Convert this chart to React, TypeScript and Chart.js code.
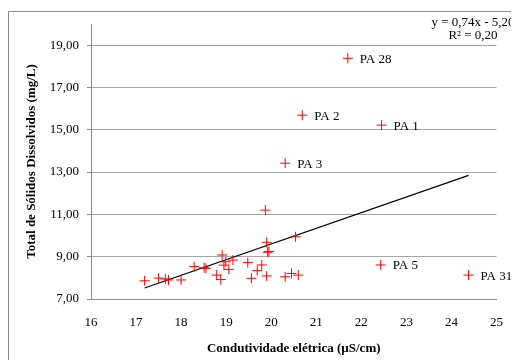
import React, { useEffect, useRef } from "react";
import { Chart, registerables } from "chart.js";

Chart.register(...registerables);

// Condutividade elétrica (µS/cm)
const condutividade = [
  22.45, 20.69, 20.31, 17.19, 22.43, 17.5, 17.65, 17.72, 18.0, 18.29, 18.51, 18.55,
  18.91, 18.79, 18.88, 18.95, 18.99, 19.06, 19.15, 19.48, 19.56, 19.69, 19.79, 19.87,
  19.9, 19.92, 19.95, 21.7, 19.9, 20.31, 24.38, 20.45, 20.6, 20.54,
];
// Total de Sólidos Dissolvidos (mg/L)
const solidos = [
  15.22, 15.69, 13.42, 7.86, 8.61, 7.99, 7.95, 7.9, 7.9, 8.53, 8.48, 8.45,
  9.08, 8.13, 7.92, 8.6, 8.76, 8.4, 8.84, 8.72, 7.98, 8.34, 8.61, 11.2,
  9.68, 9.21, 9.25, 18.38, 8.09, 8.05, 8.13, 8.21, 8.13, 9.94,
];
const pointLabels = [
  "PA 1", "PA 2", "PA 3", "", "PA 5", "", "", "", "", "", "", "",
  "", "", "", "", "", "", "", "", "", "", "", "",
  "", "", "", "PA 28", "", "", "PA 31", "", "", "",
];

const slope = 0.74;
const intercept = -5.2;
const equationLines = ["y = 0,74x - 5,20", "R² = 0,20"];

const xTicks = [16, 17, 18, 19, 20, 21, 22, 23, 24, 25];
const yTicks = [7, 9, 11, 13, 15, 17, 19];

const SERIF = "'Liberation Serif', 'Times New Roman', serif";

export default function App() {
  const ref = useRef<HTMLCanvasElement>(null);

  useEffect(() => {
    const canvas = ref.current;
    if (!canvas) return;
    const xMin = Math.min(...condutividade);
    const xMax = Math.max(...condutividade);

    const labelPlugin = {
      id: "extras",
      afterDatasetsDraw(chart: any) {
        const ctx = chart.ctx;
        const xs = chart.scales.x;
        const ys = chart.scales.y;
        ctx.save();
        ctx.fillStyle = "#000";
        ctx.font = `13px ${SERIF}`;
        ctx.textAlign = "left";
        ctx.textBaseline = "middle";
        pointLabels.forEach((l, i) => {
          if (!l) return;
          ctx.fillText(l, xs.getPixelForValue(condutividade[i]) + 12, ys.getPixelForValue(solidos[i]) + 1);
        });
        ctx.textAlign = "center";
        ctx.font = `13px ${SERIF}`;
        ctx.fillText(equationLines[0], 465, 15);
        ctx.fillText(equationLines[1], 465, 28);
        // outer frame
        ctx.strokeStyle = "#8c8c8c";
        ctx.lineWidth = 1;
        ctx.beginPath();
        ctx.moveTo(0.5, chart.height);
        ctx.lineTo(0.5, 3.5);
        ctx.lineTo(chart.width, 3.5);
        ctx.stroke();
        ctx.restore();
      },
    };

    const chart = new Chart(canvas, {
      type: "scatter",
      data: {
        datasets: [
          {
            type: "scatter",
            data: condutividade.map((x, i) => ({ x, y: solidos[i] })),
            pointStyle: "cross",
            radius: 5,
            borderColor: "#ff0000",
            backgroundColor: "#ff0000",
            borderWidth: 1,
          },
          {
            type: "line",
            data: [
              { x: xMin, y: slope * xMin + intercept },
              { x: xMax, y: slope * xMax + intercept },
            ],
            borderColor: "#000",
            borderWidth: 1.2,
            pointRadius: 0,
            fill: false,
          } as any,
        ],
      },
      options: {
        responsive: false,
        animation: false,
        layout: { padding: { top: 16, right: 15, left: 12, bottom: 0 } },
        plugins: { legend: { display: false }, tooltip: { enabled: false } },
        scales: {
          x: {
            type: "linear",
            min: 16,
            max: 25,
            afterBuildTicks: (axis: any) => {
              axis.ticks = xTicks.map((v) => ({ value: v }));
            },
            afterFit: (axis: any) => {
              axis.height = 61;
            },
            grid: { display: false, drawTicks: false },
            border: { display: true, color: "#8c8c8c", width: 1 },
            ticks: {
              color: "#000",
              font: { family: SERIF, size: 13 },
              padding: 16,
              maxRotation: 0,
            },
            title: {
              display: true,
              text: "Condutividade elétrica (µS/cm)",
              color: "#000",
              font: { family: SERIF, size: 13, weight: "bold" },
              padding: { top: 4 },
            },
          },
          y: {
            type: "linear",
            min: 7,
            max: 20,
            afterBuildTicks: (axis: any) => {
              axis.ticks = yTicks.map((v) => ({ value: v }));
            },
            afterFit: (axis: any) => {
              axis.width = 71;
            },
            grid: {
              color: (c: any) => (c.tick && c.tick.value === 7 ? "rgba(0,0,0,0)" : "#a6a6a6"),
              lineWidth: 1,
              tickLength: 4,
              tickColor: "#8c8c8c",
            },
            border: { display: true, color: "#8c8c8c", width: 1 },
            ticks: {
              color: "#000",
              font: { family: SERIF, size: 13 },
              padding: 8,
              callback: (v: any) => Number(v).toFixed(2).replace(".", ","),
            },
            title: {
              display: true,
              text: "Total de Sólidos Dissolvidos (mg/L)",
              color: "#000",
              font: { family: SERIF, size: 13, weight: "bold" },
              padding: { top: 4, bottom: 0 },
            },
          },
        },
      },
      plugins: [labelPlugin],
    });
    return () => chart.destroy();
  }, []);

  return (
    <canvas ref={ref} width={511} height={352} style={{ display: "block", width: 511, height: 352 }} />
  );
}
